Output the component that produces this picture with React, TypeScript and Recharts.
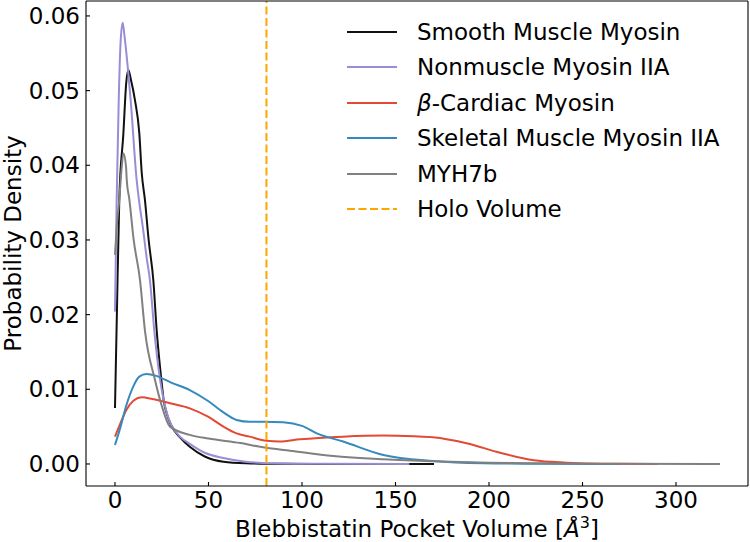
import React from 'react';
import { LineChart, Line, XAxis, YAxis, ReferenceLine, Legend, Label } from 'recharts';

const FONT = '"DejaVu Sans", Verdana, sans-serif';

// pocket volume (x) and density (y)
const smoothX = [0, 1, 2.3, 4.5, 6, 7.1, 8.5, 10.7, 13, 14.3, 16, 18, 20.5, 22.3, 25, 26, 28, 30, 35, 40, 48, 58, 70, 90, 120, 170.6];
const smoothY = [0.0075, 0.02, 0.0354, 0.0443, 0.051, 0.0528, 0.0515, 0.0487, 0.0443, 0.039, 0.0354, 0.03, 0.0246, 0.0179, 0.0108, 0.0086, 0.0065, 0.0052, 0.0035, 0.0023, 0.001, 0.0003, 0.0001, 0.00002, 0, 0];

const nonmuscleX = [0, 0.9, 2, 3, 4.1, 5, 6.8, 8.4, 11.6, 12.8, 15, 17, 18.7, 21, 24, 26, 28, 30, 35, 40, 48, 58, 70, 85, 110, 157.4];
const nonmuscleY = [0.0204, 0.0354, 0.0487, 0.0565, 0.0591, 0.0575, 0.0532, 0.0487, 0.038, 0.0354, 0.0315, 0.0275, 0.0246, 0.0179, 0.0115, 0.0086, 0.0066, 0.0053, 0.0036, 0.0027, 0.0015, 0.0008, 0.0003, 0.0001, 0.00002, 0];

const cardiacX = [0, 3, 6, 10, 14.3, 20, 30, 40, 50, 58, 65, 72, 81, 88, 99, 122, 143.5, 160, 170, 188, 206, 224, 241.5, 260, 290];
const cardiacY = [0.00366, 0.0055, 0.0072, 0.0085, 0.00893, 0.0087, 0.0081, 0.00745, 0.0063, 0.005, 0.0041, 0.00366, 0.0031, 0.003, 0.0033, 0.00366, 0.0038, 0.0037, 0.00357, 0.00277, 0.0015, 0.0005, 0.00018, 0.00003, 0];

const skeletalX = [0, 3, 6, 10, 13, 16.9, 22, 30, 40, 50, 58, 65, 72, 79, 90, 100, 107.9, 122, 143.5, 170, 197, 230, 270];
const skeletalY = [0.00254, 0.005, 0.0078, 0.0105, 0.0117, 0.01205, 0.0118, 0.0109, 0.0099, 0.0084, 0.0069, 0.0059, 0.00565, 0.00567, 0.0056, 0.0051, 0.0041, 0.003, 0.0012, 0.0004, 0.0001, 0.00002, 0];

const myh7bX = [0, 1, 2.3, 3.5, 4.5, 5.9, 6.3, 7.7, 10, 13.4, 16, 21.4, 25, 29.4, 40, 50, 67, 80, 93.6, 116.7, 143.5, 170, 200, 223, 260, 323.5];
const myh7bY = [0.028, 0.032, 0.0354, 0.0395, 0.0416, 0.0398, 0.038, 0.0354, 0.03, 0.0246, 0.0179, 0.01125, 0.0078, 0.005, 0.0039, 0.0034, 0.0028, 0.0022, 0.00178, 0.00107, 0.00063, 0.00036, 0.00018, 0.0001, 0.00003, 0];

const holoVolume = 81;

const xTicks = [0, 50, 100, 150, 200, 250, 300];
const yTicks = [0, 0.01, 0.02, 0.03, 0.04, 0.05, 0.06];

const X_DOMAIN = [-15.5, 338.5];
const Y_DOMAIN = [-0.00295, 0.062];

const toPoints = (xs: number[], ys: number[]) => xs.map((x, i) => ({ x, y: ys[i] }));

// the first series is bound to the top/right axes (same domains) so the frame gets drawn
const series = [
  { name: 'Smooth Muscle Myosin', color: '#111111', data: toPoints(smoothX, smoothY), xId: 'top', yId: 'right' },
  { name: 'Nonmuscle Myosin IIA', color: '#988ED5', data: toPoints(nonmuscleX, nonmuscleY), xId: 0, yId: 0 },
  { name: 'β-Cardiac Myosin', color: '#E24A33', data: toPoints(cardiacX, cardiacY), xId: 0, yId: 0 },
  { name: 'Skeletal Muscle Myosin IIA', color: '#348ABD', data: toPoints(skeletalX, skeletalY), xId: 0, yId: 0 },
  { name: 'MYH7b', color: '#808080', data: toPoints(myh7bX, myh7bY), xId: 0, yId: 0 },
];

const renderLegend = () => (
  <div style={{ fontFamily: FONT, fontSize: 23, color: '#000' }}>
    {series.map((s) => (
      <div key={s.name} style={{ display: 'flex', alignItems: 'center', height: 35.5 }}>
        <svg width={50} height={10} style={{ marginRight: 20 }}>
          <line x1={0} x2={50} y1={5} y2={5} stroke={s.color} strokeWidth={2} />
        </svg>
        <span style={{ whiteSpace: 'nowrap' }}>
          {s.name.startsWith('β') ? (
            <>
              <i>β</i>
              {s.name.slice(1)}
            </>
          ) : (
            s.name
          )}
        </span>
      </div>
    ))}
    <div style={{ display: 'flex', alignItems: 'center', height: 35.5 }}>
      <svg width={50} height={10} style={{ marginRight: 20 }}>
        <line x1={0} x2={50} y1={5} y2={5} stroke="#FFA500" strokeWidth={2} strokeDasharray="8 3.5" />
      </svg>
      <span>Holo Volume</span>
    </div>
  </div>
);

const XTitle = (props: any) => {
  const { viewBox } = props;
  const cx = viewBox.x + viewBox.width / 2;
  return (
    <text x={cx} y={537} textAnchor="middle" fontFamily={FONT} fontSize={23} fill="#000">
      Blebbistatin Pocket Volume [<tspan fontStyle="italic">Å</tspan>
      <tspan dy={-9} fontSize={16}>3</tspan>
      <tspan dy={9}>]</tspan>
    </text>
  );
};

const YTitle = (props: any) => {
  const { viewBox } = props;
  const cy = viewBox.y + viewBox.height / 2;
  return (
    <text
      x={21}
      y={cy}
      transform={`rotate(-90, 21, ${cy})`}
      textAnchor="middle"
      fontFamily={FONT}
      fontSize={23}
      fill="#000"
    >
      Probability Density
    </text>
  );
};

const tickStyle = { fontFamily: FONT, fontSize: 23, fill: '#000' };
const axisLine = { stroke: '#000', strokeWidth: 1.1 };

export default function App() {
  return (
    <div style={{ width: 750, height: 542 }}>
      <style>{'body{margin:0}'}</style>
      <LineChart width={750} height={542} margin={{ top: 0, right: 1, bottom: 0, left: 0 }}>
        <XAxis
          type="number"
          dataKey="x"
          domain={X_DOMAIN}
          ticks={xTicks}
          allowDataOverflow
          height={56}
          tickSize={-4}
          tickMargin={10}
          tick={tickStyle}
          axisLine={axisLine}
          tickLine={axisLine}
        >
          <Label content={<XTitle />} />
        </XAxis>
        <XAxis
          xAxisId="top"
          orientation="top"
          type="number"
          dataKey="x"
          domain={X_DOMAIN}
          ticks={xTicks}
          allowDataOverflow
          height={1}
          tickSize={-4}
          tick={false}
          axisLine={axisLine}
          tickLine={axisLine}
        />
        <YAxis
          type="number"
          domain={Y_DOMAIN}
          ticks={yTicks}
          allowDataOverflow
          width={86}
          tickSize={-4}
          tickMargin={10}
          tick={tickStyle}
          tickFormatter={(v: number) => v.toFixed(2)}
          axisLine={axisLine}
          tickLine={axisLine}
        >
          <Label content={<YTitle />} />
        </YAxis>
        <YAxis
          yAxisId="right"
          orientation="right"
          type="number"
          domain={Y_DOMAIN}
          ticks={yTicks}
          allowDataOverflow
          width={1}
          tickSize={-4}
          tick={false}
          axisLine={axisLine}
          tickLine={axisLine}
        />
        {series.map((s) => (
          <Line
            key={s.name}
            data={s.data}
            dataKey="y"
            name={s.name}
            xAxisId={s.xId}
            yAxisId={s.yId}
            type="monotone"
            stroke={s.color}
            strokeWidth={2}
            dot={false}
            activeDot={false}
            isAnimationActive={false}
          />
        ))}
        <ReferenceLine x={holoVolume} stroke="#FFA500" strokeWidth={2} strokeDasharray="8 3.5" />
        <Legend
          layout="vertical"
          align="center"
          verticalAlign="middle"
          content={renderLegend}
          wrapperStyle={{ left: 347, top: 14, width: 400, height: 'auto' }}
        />
      </LineChart>
    </div>
  );
}
